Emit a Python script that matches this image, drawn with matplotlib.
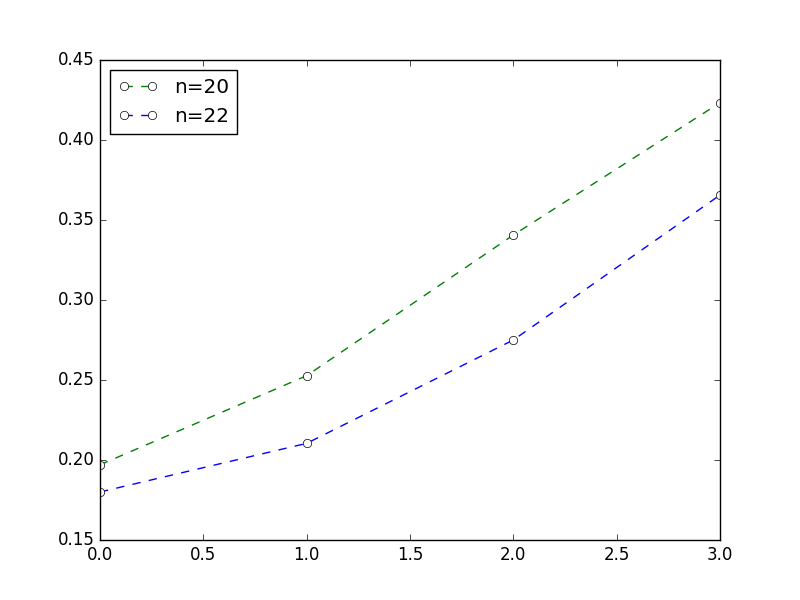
import matplotlib
matplotlib.use("Agg")
import matplotlib.pyplot as plt

plt.style.use("classic")

x = [0, 1, 2, 3]
n20 = [0.197, 0.2527, 0.3406, 0.4233]
n22 = [0.180, 0.2104, 0.275, 0.3656]

fig = plt.figure(figsize=(8, 6), dpi=100)
ax = fig.add_subplot(111)

ax.plot(x, n20, "g--o", markerfacecolor="white", markeredgecolor="black", label="n=20")
ax.plot(x, n22, "b--o", markerfacecolor="white", markeredgecolor="black", label="n=22")

ax.set_xlim(0, 3)
ax.set_ylim(0.15, 0.45)
ax.legend(loc="upper left", numpoints=2)

fig.savefig("out.png", dpi=100)
